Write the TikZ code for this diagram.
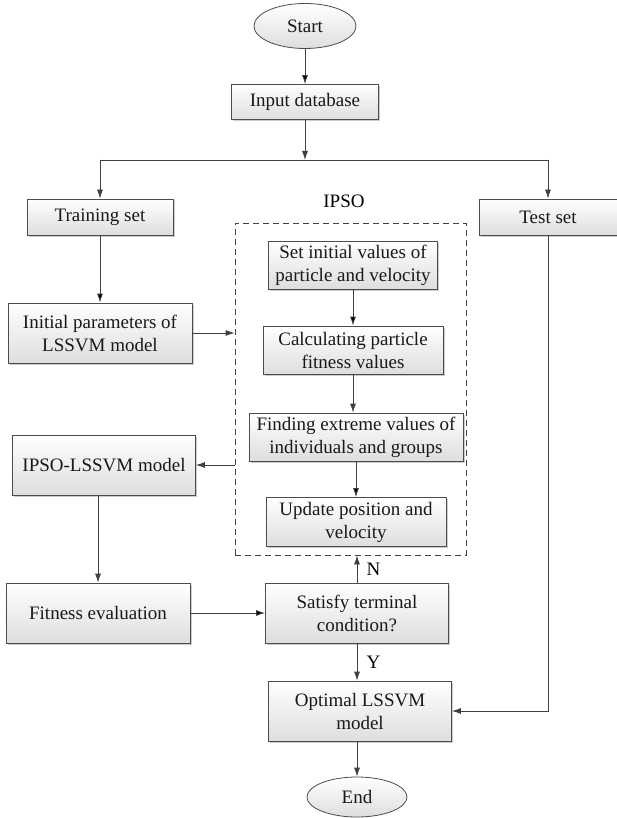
\documentclass[tikz,border=0pt]{standalone}
\usepackage{fontspec}
\setmainfont{Liberation Serif}
\usetikzlibrary{arrows.meta, shapes.geometric, shadows, positioning}

\begin{document}
\begin{tikzpicture}[x=1pt, y=-1pt, font=\fontsize{19}{23}\selectfont]
		\tikzset{blk/.style={rectangle, draw=black!70, line width=0.8pt, top color=white, bottom color=black!13, drop shadow={shadow xshift=1.5pt, shadow yshift=-1.5pt, fill=black!40}, align=center, inner sep=2pt, text=black!90}}
		\tikzset{term/.style={ellipse, draw=black!70, line width=0.8pt, top color=white, bottom color=black!13, inner sep=0, text=black!90}}
		\tikzset{ar/.style={-{Latex[length=9pt, width=6pt]}, draw=black!75, line width=0.8pt}}
		\tikzset{ln/.style={draw=black!75, line width=0.8pt}}
		\useasboundingbox (0,0) rectangle (617,818);
		\node[term, minimum width=102pt, minimum height=45pt] at (305,26) (start) {Start};
		\node[blk, minimum width=147pt, minimum height=35pt] at (305,102) (input) {Input database};
		\coordinate (split) at (305,160);
		\node[blk, minimum width=146pt, minimum height=36pt] at (100,217) (train) {Training set};
		\node[blk, minimum width=138pt, minimum height=36pt] at (548,217) (test) {Test set};
		\node at (344,201) (ipsolabel) {IPSO};
		\node[draw=black!75, dash pattern=on 6pt off 4pt, line width=0.8pt, minimum width=231pt, minimum height=332pt, inner sep=0] at (350.5,389) (ipso) {};
		\node[blk, minimum width=169pt, minimum height=48pt] at (353,265) (init) {Set initial values of\\particle and velocity};
		\node[blk, minimum width=180pt, minimum height=48pt] at (353,350) (calc) {Calculating particle\\fitness values};
		\node[blk, minimum width=214pt, minimum height=48pt] at (356,437) (find) {Finding extreme values of\\individuals and groups};
		\node[blk, minimum width=180pt, minimum height=49pt] at (356,522) (upd) {Update position and\\velocity};
		\node[blk, minimum width=184pt, minimum height=60pt] at (100,333) (param) {Initial parameters of\\LSSVM model};
		\node[blk, minimum width=183pt, minimum height=60pt] at (104,465) (model) {IPSO-LSSVM model};
		\node[blk, minimum width=184pt, minimum height=60pt] at (98,613) (fit) {Fitness evaluation};
		\node[blk, minimum width=183pt, minimum height=60pt] at (357,613) (sat) {Satisfy terminal\\condition?};
		\node[blk, minimum width=183pt, minimum height=60pt] at (360,711) (opt) {Optimal LSSVM\\model};
		\node[term, minimum width=100pt, minimum height=40pt] at (357,797) (end) {End};
		\path[ar] (start) edge (input);
		\draw[ar] (input) -- (split);
		\draw[ln] (train.north |- split) -- (test.north |- split);
		\draw[ar] (train.north |- split) -- (train.north);
		\draw[ar] (test.north |- split) -- (test.north);
		\path[ar] (train) edge (param);
		\draw[ar] (param.east) -- (param.east -| ipso.west);
		\path[ar] (init) edge (calc);
		\draw[ar] (calc.south) -- (calc.south |- find.north);
		\path[ar] (find) edge (upd);
		\draw[ar] (ipso.west |- model) -- (model.east);
		\draw[ar] (fit.north |- model.south) -- (fit.north);
		\path[ar] (fit) edge (sat);
		\draw[ar] (sat) -- (sat |- ipso.south) node[midway, right=6pt] {N};
		\draw[ar] (sat.south) -- (sat.south |- opt.north) node[midway, right=6pt] {Y};
		\draw[ar] (end.north |- opt.south) -- (end.north);
		\draw[ar] (test) |- (opt);
	\end{tikzpicture}
\end{document}
